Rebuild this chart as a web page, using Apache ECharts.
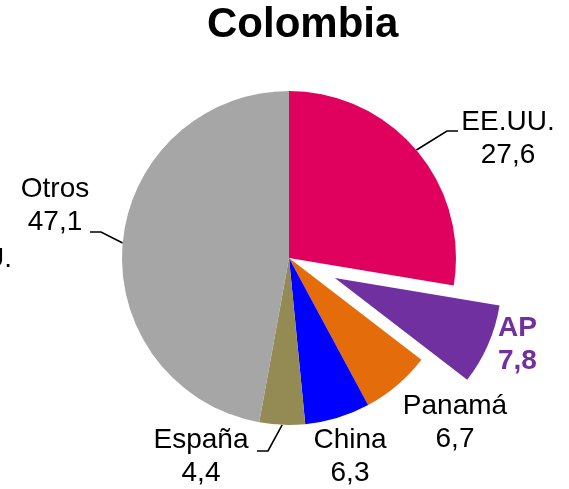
<!DOCTYPE html>
<html>
<head>
<meta charset="utf-8">
<script src="https://cdn.jsdelivr.net/npm/echarts@6/dist/echarts.min.js"></script>
<style>
  html, body { margin: 0; padding: 0; background: #fff; }
  #chart { width: 569px; height: 489px; }
</style>
</head>
<body>
<div id="chart"></div>
<script>
// datos
var countries = ['EE.UU.', 'AP', 'Panamá', 'China', 'España', 'Otros'];
var shares = [27.6, 7.8, 6.7, 6.3, 4.4, 47.1];
var sliceColors = ['#e0005e', '#7030a0', '#e46c0a', '#0000ff', '#948a54', '#a6a6a6'];

// donde va cada etiqueta (centro del bloque de texto) y los quiebres de la linea guia
// AP no va aqui: el sector separado maneja su propia etiqueta
var labelSpots = { 0: [508, 139], 2: [455, 423], 3: [350, 457], 4: [201, 457], 5: [55, 206] };
var leaderBends = {
    0: [[447, 131], [458, 131]],
    4: [[268, 451], [257, 451]],
    5: [[101, 232], [90, 232]]
};

var pieData = [];
for (var i = 0; i < countries.length; i++) {
    var item = {
        name: countries[i],
        value: shares[i],
        itemStyle: { color: sliceColors[i] },
        labelLine: { show: leaderBends[i] !== undefined }
    };
    if (countries[i] === 'AP') {
        item.selected = true;
        item.label = { color: '#7030a0', fontWeight: 'bold' };
        item.labelLine = { show: false, length: 0, length2: 5 };
        item.select = { itemStyle: { color: sliceColors[i] }, label: { color: '#7030a0', fontWeight: 'bold' } };
    }
    pieData.push(item);
}

var chartDom = document.getElementById('chart');
var myChart = echarts.init(chartDom);
var option;

option = {
    animation: false,
    title: {
        text: 'Colombia',
        left: 207,
        top: 4,
        padding: 0,
        textStyle: {
            fontFamily: 'Liberation Sans, Arial, sans-serif',
            fontSize: 42,
            lineHeight: 42,
            fontWeight: 'bold',
            color: '#000'
        }
    },
    graphic: [{
        type: 'text',
        x: 12,
        y: 259,
        style: {
            text: 'U.',
            align: 'right',
            verticalAlign: 'middle',
            font: '28px "Liberation Sans", Arial, sans-serif',
            fill: '#000'
        }
    }],
    series: [{
        type: 'pie',
        center: [289, 258],
        radius: [0, 167],
        startAngle: 90,
        clockwise: true,
        selectedMode: 'single',
        selectedOffset: 50,
        avoidLabelOverlap: false,
        silent: true,
        emphasis: { disabled: true },
        itemStyle: { borderWidth: 0 },
        label: {
            show: true,
            position: 'outside',
            fontFamily: 'Liberation Sans, Arial, sans-serif',
            fontSize: 28,
            lineHeight: 33,
            color: '#000',
            align: 'center',
            formatter: function (p) {
                return p.name + '\n' + String(p.value).replace('.', ',');
            }
        },
        labelLine: {
            lineStyle: { color: '#000', width: 1.6 }
        },
        labelLayout: function (params) {
            var i = params.dataIndex;
            if (!labelSpots[i]) {
                return {};
            }
            var res = {
                x: labelSpots[i][0],
                y: labelSpots[i][1],
                align: 'center',
                verticalAlign: 'middle'
            };
            if (leaderBends[i] && params.labelLinePoints) {
                res.labelLinePoints = [params.labelLinePoints[0]].concat(leaderBends[i]);
            }
            return res;
        },
        data: pieData
    }]
};
option && myChart.setOption(option);
</script>
</body>
</html>
